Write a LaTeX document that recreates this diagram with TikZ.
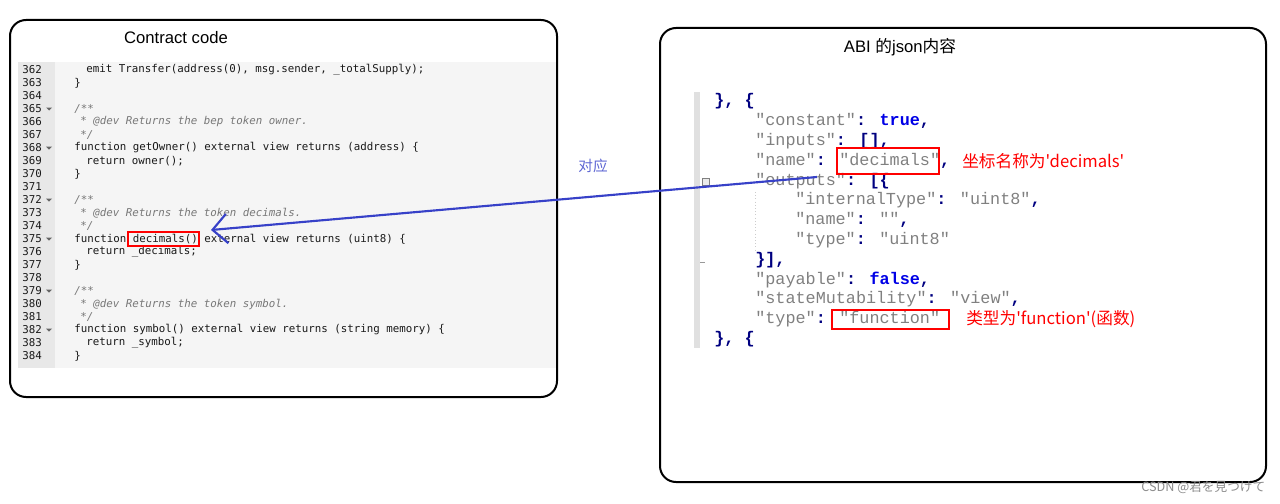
\documentclass[tikz,border=0pt]{standalone}
\usepackage{fontspec}
\setmainfont{Liberation Sans}
\newfontfamily\cjk{Noto Sans CJK SC}
\newfontfamily\dmono{DejaVu Sans Mono}
\newfontfamily\lmono{Liberation Mono}
\usetikzlibrary{arrows.meta}
\definecolor{keyg}{RGB}{128,128,128}
\definecolor{navy}{RGB}{0,0,128}
\definecolor{kwb}{RGB}{0,0,230}
\definecolor{arrb}{RGB}{55,65,200}
\definecolor{cmt}{RGB}{120,120,120}
\newcommand\jK[1]{\textcolor{keyg}{#1}}
\newcommand\jP[1]{\textcolor{navy}{\bfseries #1}}
\newcommand\jB[1]{\textcolor{kwb}{\bfseries #1}}
\begin{document}
\begin{tikzpicture}[x=0.75pt,y=-0.75pt,
  panel/.style={draw=black,line width=1.5pt,rounded corners=12pt},
  code/.style={anchor=west,inner sep=0pt,font=\dmono\fontsize{8.1}{8}\selectfont,text=black!90},
  comm/.style={code,font=\dmono\itshape\fontsize{8.1}{8}\selectfont,text=cmt},
  ln/.style={anchor=west,inner sep=0pt,font=\dmono\fontsize{8.1}{8}\selectfont,text=black!90},
  js/.style={anchor=west,inner sep=0pt,font=\lmono\fontsize{12.6}{13}\selectfont},
  redbox/.style={draw=red,line width=0.8pt},
  redlbl/.style={anchor=west,inner sep=0pt,text=red,font=\cjk\fontsize{12.5}{13}\selectfont},
  tri/.style={fill=black!60}]
\useasboundingbox (0,0) rectangle (1280,503);
% left panel
\draw[panel] (10,20) rectangle (557,397);
\node (lt) at (176,38) {\fontsize{12.5}{13}\selectfont Contract code};
\fill[black!4] (18,62) rectangle (556,368);
\fill[black!9] (18,62) rectangle (55,368);
\foreach \n [count=\i from 0] in {362,...,384}{
  \node[ln] (ln\n) at (22,{70+13*\i}) {\n};
}
\foreach \y in {109,148,200,239,291,330}{\fill[tri] (46,\y-1.5) -- (52,\y-1.5) -- (49,\y+1.5) -- cycle;}
\node[code] (c362) at (86,70) {emit Transfer(address(0), msg.sender, \_totalSupply);};
\node[code] (c363) at (74,83) {\}};
\node[comm] (c365) at (74,109) {/**};
\node[comm] (c366) at (80,122) {* @dev Returns the bep token owner.};
\node[comm] (c367) at (80,135) {*/};
\node[code] (c368) at (74,148) {function getOwner() external view returns (address) \{};
\node[code] (c369) at (86,161) {return owner();};
\node[code] (c370) at (74,174) {\}};
\node[comm] (c372) at (74,200) {/**};
\node[comm] (c373) at (80,213) {* @dev Returns the token decimals.};
\node[comm] (c374) at (80,226) {*/};
\node[code] (c375) at (74,239) {function decimals() external view returns (uint8) \{};
\node[code] (c376) at (86,252) {return \_decimals;};
\node[code] (c377) at (74,265) {\}};
\node[comm] (c379) at (74,291) {/**};
\node[comm] (c380) at (80,304) {* @dev Returns the token symbol.};
\node[comm] (c381) at (80,317) {*/};
\node[code] (c382) at (74,330) {function symbol() external view returns (string memory) \{};
\node[code] (c383) at (86,343) {return \_symbol;};
\node[code] (c384) at (74,356) {\}};
\draw[redbox] (128,232) rectangle (199,246);
\coordinate (dtip) at (211,230);
% right panel
\draw[panel] (660,28) rectangle (1266,482);
\node (rt) at (900,47) {\fontsize{12.5}{13}\selectfont ABI {\cjk 的}json{\cjk 内容}};
\fill[black!12] (694,92) rectangle (700,348);
\draw[black!20,dotted] (755,192) -- (755,250);
\draw[black!40] (700,262) -- (705,262);
\draw[black!50,fill=black!8] (702,178) rectangle (709,185);
\node[js] (j1) at (714,101) {\jP{\}, \{}};
\node[js] (j2) at (755,121) {\jK{"constant"}\jP{: }\jB{true}\jP{,}};
\node[js] (j3) at (755,141) {\jK{"inputs"}\jP{: [],}};
\node[js] (j4) at (755,161) {\jK{"name"}\jP{: }\jK{"decimals"}\jP{,}};
\node[js] (j5) at (755,181) {\jK{"outputs"}\jP{: [\{}};
\node[js] (j6) at (795,200) {\jK{"internalType"}\jP{: }\jK{"uint8"}\jP{,}};
\node[js] (j7) at (795,220) {\jK{"name"}\jP{: }\jK{""}\jP{,}};
\node[js] (j8) at (795,240) {\jK{"type"}\jP{: }\jK{"uint8"}};
\node[js] (j9) at (755,260) {\jP{\}],}};
\node[js] (j10) at (755,280) {\jK{"payable"}\jP{: }\jB{false}\jP{,}};
\node[js] (j11) at (755,299) {\jK{"stateMutability"}\jP{: }\jK{"view"}\jP{,}};
\node[js] (j12) at (755,319) {\jK{"type"}\jP{: }\jK{"function"}};
\node[js] (j13) at (714,339) {\jP{\}, \{}};
\draw[redbox] (837,148) rectangle (939,174);
\draw[redbox] (832,310) rectangle (949,329);
\node[redlbl] (l1) at (962,161) {坐标名称为'decimals'};
\node[redlbl] (l2) at (966,319) {类型为'function'(函数)};
\coordinate (astart) at (817,177);
% arrow
\draw[arrb,line width=1.6pt,-{Straight Barb[length=11pt,width=22pt,line width=1.6pt]}] (astart) -- (dtip);
\node[text=arrb!80,font=\cjk\fontsize{11}{12}\selectfont] (dy) at (593,166) {对应};
\node[text=black!45,font=\cjk\fontsize{9.5}{10}\selectfont,anchor=east] (wm) at (1270,487) {CSDN @君を見つけて};
\end{tikzpicture}
\end{document}
